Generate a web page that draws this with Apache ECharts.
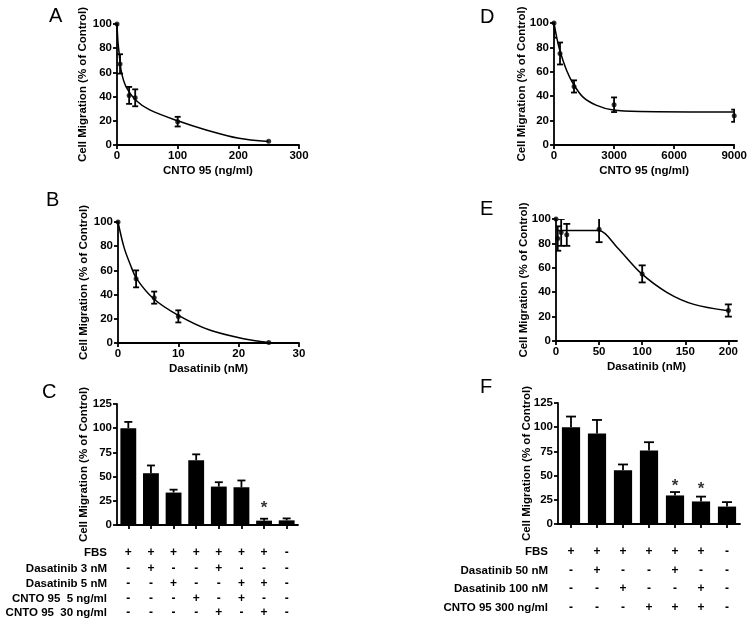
<!DOCTYPE html>
<html>
<head>
<meta charset="utf-8">
<script src="https://cdn.jsdelivr.net/npm/echarts@6/dist/echarts.min.js"></script>
<style>html,body{margin:0;padding:0;background:#fff}#c{width:750px;height:622px}</style>
</head>
<body>
<div id="c"></div>
<script>
// ---------- DATA ----------
// Panel A: CNTO 95 (ng/ml)
const aDose = [0, 5, 20, 30, 100, 250];
const aMean = [100, 67, 41, 39, 19.3, 3];
const aErr  = [0, 8, 7, 7, 4, 0];
const aFitX = [0, 1.5, 3.3, 7, 15, 31, 54, 100, 147, 201, 250];
const aFitY = [100, 86, 77, 61, 48, 37, 29, 20, 12.4, 5.5, 2.8];

// Panel B: Dasatinib (nM)
const bDose = [0, 3, 6, 10, 25];
const bMean = [100, 53, 37.5, 22, 0.5];
const bErr  = [0, 7, 5, 5, 0];
const bFitX = [0, 1, 2.1, 3.1, 5.9, 10, 15.3, 20.8, 25];
const bFitY = [100, 79, 64, 53, 36.6, 22.9, 10.5, 3.6, 0.5];

// Panel D: CNTO 95 (ng/ml)
const dDose = [0, 300, 1000, 3000, 9000];
const dMean = [100, 75, 48, 33, 24];
const dErr  = [12, 9, 5, 6, 5];
const dFitX = [0, 150, 300, 632, 965, 1464, 2130, 2962, 4293, 9000];
const dFitY = [100, 87, 77, 61, 50, 39, 32.5, 28.6, 27.4, 27];

// Panel E: Dasatinib (nM)
const eDose = [0, 2, 6, 12.5, 50, 100, 200];
const eMean = [100, 84, 89, 87, 91.5, 55, 25];
const eErr  = [0, 10, 11, 9, 10.5, 7, 5];
const eFitX = [0, 25, 50, 71, 98, 129, 160, 200];
const eFitY = [90.5, 90.5, 90.5, 76.7, 56, 39.7, 30, 24.7];

// Panel C: bars
const cCats = ['c1','c2','c3','c4','c5','c6','c7','c8'];
const cMean = [100, 53.5, 33.5, 67, 39.7, 39, 4.5, 4.8];
const cErr  = [6.5, 8, 3, 6, 4.5, 7, 2, 2];
const cStar = [null, null, null, null, null, null, 20, null];
const cRowNames = ['FBS', 'Dasatinib 3 nM', 'Dasatinib 5 nM', 'CNTO 95  5 ng/ml', 'CNTO 95  30 ng/ml'];
const cRows = [
  ['+','+','+','+','+','+','+','-'],
  ['-','+','-','-','+','-','-','-'],
  ['-','-','+','-','-','+','+','-'],
  ['-','-','-','+','-','+','-','-'],
  ['-','-','-','-','+','-','+','-']
];

// Panel F: bars
const fCats = ['f1','f2','f3','f4','f5','f6','f7'];
const fMean = [100, 93.5, 55.5, 76, 29.5, 23.3, 18];
const fErr  = [11, 14, 6, 8.5, 3.5, 5, 4.6];
const fStar = [null, null, null, null, 41.7, 39.2, null];
const fRowNames = ['FBS', 'Dasatinib 50 nM', 'Dasatinib 100 nM', 'CNTO 95 300 ng/ml'];
const fRows = [
  ['+','+','+','+','+','+','-'],
  ['-','+','-','-','+','-','-'],
  ['-','-','+','-','-','+','-'],
  ['-','-','-','+','+','+','-']
];

const yTitle = 'Cell Migration (% of Control)';

// ---------- CHART ----------
const FONT = '"Liberation Sans", Arial, Helvetica, sans-serif';
const txt = {color: '#000', fontFamily: FONT, fontWeight: 'bold', fontSize: 11.5};
const chart = echarts.init(document.getElementById('c'), null, {renderer: 'canvas'});

const grids = [
  {left: 117, top: 24, width: 182, height: 121},  // A
  {left: 118, top: 222, width: 181, height: 121}, // B
  {left: 117, top: 404, width: 181, height: 121}, // C
  {left: 554, top: 23, width: 181, height: 122},  // D
  {left: 556, top: 219, width: 181, height: 122}, // E
  {left: 558, top: 403, width: 182, height: 121}  // F
];

const axLine = {show: true, onZero: false, lineStyle: {color: '#000', width: 1.8}};
const axTick = {show: true, length: 4, lineStyle: {color: '#000', width: 1.8}};
const plain = function (v) { return String(v); };

function valX(grid, max, interval, name, extra) {
  return Object.assign({
    type: 'value', gridIndex: grid, min: 0, max: max, interval: interval,
    axisLine: axLine, axisTick: axTick, splitLine: {show: false},
    axisLabel: Object.assign({margin: 5, formatter: plain}, txt),
    name: name, nameLocation: 'middle', nameGap: 20, nameMoveOverlap: false,
    nameTextStyle: Object.assign({}, txt)
  }, extra || {});
}
function valY(grid, max, interval, gap) {
  return {
    type: 'value', gridIndex: grid, min: 0, max: max, interval: interval,
    axisLine: axLine, axisTick: axTick, splitLine: {show: false},
    axisLabel: Object.assign({margin: 5, formatter: plain}, txt),
    name: yTitle, nameLocation: 'middle', nameGap: gap, nameMoveOverlap: false,
    nameTextStyle: Object.assign({}, txt)
  };
}

const xAxes = [
  valX(0, 300, 100, 'CNTO 95 (ng/ml)'),
  valX(1, 30, 10, 'Dasatinib (nM)'),
  {type: 'category', gridIndex: 2, data: cCats, position: 'bottom', offset: 0, axisLine: axLine,
   axisTick: Object.assign({alignWithLabel: true}, axTick), axisLabel: {show: false}},
  valX(3, 9000, 3000, 'CNTO 95 (ng/ml)'),
  valX(4, 210, 50, 'Dasatinib (nM)', {
    axisTick: Object.assign({customValues: [0, 50, 100, 150, 200]}, axTick),
    axisLabel: Object.assign({margin: 5, formatter: plain, customValues: [0, 50, 100, 150, 200]}, txt)
  }),
  {type: 'category', gridIndex: 5, data: fCats, position: 'bottom', offset: 0, axisLine: axLine,
   axisTick: Object.assign({alignWithLabel: true}, axTick), axisLabel: {show: false}}
];

function tableAxes(grid, cats, rows, names, offsets) {
  rows.forEach(function (row, r) {
    xAxes.push({
      type: 'category', gridIndex: grid, data: cats, position: 'bottom', offset: offsets[r],
      axisLine: {show: true, onZero: false, lineStyle: {color: 'rgba(0,0,0,0)', width: 0}},
      axisTick: {show: false}, splitLine: {show: false},
      axisLabel: Object.assign({interval: 0, margin: 0, verticalAlign: 'middle',
        formatter: function (v, i) { return row[i]; }}, txt, {fontSize: 12}),
      name: names[r], nameLocation: 'start', nameGap: 10, nameMoveOverlap: false,
      nameTextStyle: Object.assign({align: 'right', verticalAlign: 'middle'}, txt)
    });
  });
}
tableAxes(2, cCats, cRows, cRowNames, [28, 44, 59, 74, 88]);
tableAxes(5, fCats, fRows, fRowNames, [28, 47, 65, 84]);

const yAxes = [
  valY(0, 100, 20, 28),
  valY(1, 100, 20, 28),
  valY(2, 125, 25, 27),
  valY(3, 100, 20, 26),
  valY(4, 100, 20, 26),
  valY(5, 125, 25, 25)
];

function zip3(a, b, c) { return a.map(function (v, i) { return [v, b[i], c ? c[i] : 0]; }); }

function errSeries(xi, yi, data, half, upperOnly) {
  return {
    type: 'custom', xAxisIndex: xi, yAxisIndex: yi, clip: true, z: 3,
    data: data,
    renderItem: function (params, api) {
      const x = api.value(0), y = api.value(1), e = api.value(2);
      if (!e) return null;
      const top = api.coord([x, y + e]);
      const bot = upperOnly ? api.coord([x, y]) : api.coord([x, y - e]);
      const st = {stroke: '#000', lineWidth: 1.8};
      const ch = [
        {type: 'line', shape: {x1: top[0], y1: top[1], x2: bot[0], y2: bot[1]}, style: st},
        {type: 'line', shape: {x1: top[0] - half, y1: top[1], x2: top[0] + half, y2: top[1]}, style: st}
      ];
      if (!upperOnly) ch.push({type: 'line', shape: {x1: bot[0] - half, y1: bot[1], x2: bot[0] + half, y2: bot[1]}, style: st});
      return {type: 'group', children: ch};
    }
  };
}
function pts(xi, yi, xs, ys) {
  return {type: 'scatter', xAxisIndex: xi, yAxisIndex: yi, symbol: 'circle', symbolSize: 5,
    itemStyle: {color: '#000'}, z: 4, data: xs.map(function (v, i) { return [v, ys[i]]; })};
}
function fit(xi, yi, xs, ys) {
  return {type: 'line', xAxisIndex: xi, yAxisIndex: yi, smooth: 0.3,
    showSymbol: false, symbol: 'none', lineStyle: {color: '#000', width: 1.5}, z: 2,
    data: xs.map(function (v, i) { return [v, ys[i]]; })};
}
function bars(xi, yi, vals) {
  return {type: 'bar', xAxisIndex: xi, yAxisIndex: yi, barWidth: '70%',
    itemStyle: {color: '#000'}, data: vals, z: 2};
}
function stars(xi, yi, vals) {
  return {type: 'scatter', xAxisIndex: xi, yAxisIndex: yi, symbolSize: 0, z: 5,
    data: vals.map(function (v, i) { return v == null ? null : [i, v]; }).filter(function (d) { return d; }),
    label: {show: true, position: 'inside', formatter: '*', color: '#000', fontFamily: FONT,
      fontWeight: 'bold', fontSize: 17, offset: [0, 3]}};
}

const series = [
  fit(0, 0, aFitX, aFitY), errSeries(0, 0, zip3(aDose, aMean, aErr), 3, false), pts(0, 0, aDose, aMean),
  fit(1, 1, bFitX, bFitY), errSeries(1, 1, zip3(bDose, bMean, bErr), 3, false), pts(1, 1, bDose, bMean),
  bars(2, 2, cMean), errSeries(2, 2, cMean.map(function (v, i) { return [i, v, cErr[i]]; }), 4, true), stars(2, 2, cStar),
  fit(3, 3, dFitX, dFitY), errSeries(3, 3, zip3(dDose, dMean, dErr), 3, false), pts(3, 3, dDose, dMean),
  fit(4, 4, eFitX, eFitY), errSeries(4, 4, zip3(eDose, eMean, eErr), 3.5, false), pts(4, 4, eDose, eMean),
  bars(5, 5, fMean), errSeries(5, 5, fMean.map(function (v, i) { return [i, v, fErr[i]]; }), 5, true), stars(5, 5, fStar)
];

const letter = {color: '#000', fontFamily: FONT, fontWeight: 'normal', fontSize: 20};
const titles = [
  {text: 'A', left: 49, top: 6}, {text: 'B', left: 46, top: 190}, {text: 'C', left: 42, top: 382},
  {text: 'D', left: 480, top: 7}, {text: 'E', left: 480, top: 199}, {text: 'F', left: 480, top: 377}
].map(function (t) { return Object.assign({padding: 0, textStyle: letter}, t); });

chart.setOption({
  animation: false,
  backgroundColor: '#fff',
  title: titles,
  grid: grids,
  xAxis: xAxes,
  yAxis: yAxes,
  series: series
});
</script>
</body>
</html>
